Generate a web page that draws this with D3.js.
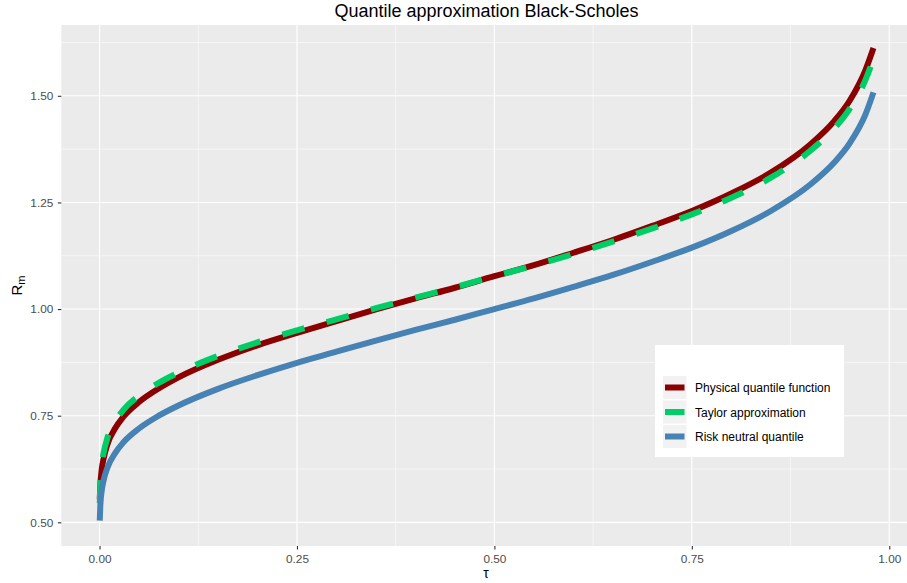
<!DOCTYPE html>
<html>
<head>
<meta charset="utf-8">
<script src="https://cdn.jsdelivr.net/npm/d3@7"></script>
<style>
  body { margin: 0; background: #fff; }
  text { font-family: "Liberation Sans", Arial, sans-serif; }
</style>
</head>
<body>
<script>
// values
const tau = [0.0003, 0.001, 0.003, 0.005, 0.01, 0.02, 0.03, 0.05, 0.075, 0.1,
  0.15, 0.2, 0.25, 0.3, 0.35, 0.4, 0.45, 0.5, 0.55, 0.6, 0.65, 0.7, 0.75,
  0.8, 0.85, 0.9, 0.93, 0.95, 0.97, 0.98];
const physical = [0.555, 0.585, 0.627, 0.648, 0.683, 0.721, 0.747, 0.782, 0.814, 0.840,
  0.881, 0.915, 0.944, 0.972, 0.999, 1.025, 1.050, 1.077, 1.103, 1.132, 1.162, 1.195, 1.230,
  1.271, 1.320, 1.386, 1.440, 1.489, 1.561, 1.612];
const taylor = [0.545, 0.588, 0.638, 0.661, 0.698, 0.737, 0.763, 0.797, 0.827, 0.851,
  0.890, 0.922, 0.950, 0.976, 1.002, 1.027, 1.051, 1.077, 1.102, 1.129, 1.158, 1.189, 1.222,
  1.261, 1.308, 1.371, 1.423, 1.470, 1.538, 1.587];
const riskNeutral = [0.504, 0.539, 0.577, 0.597, 0.628, 0.663, 0.687, 0.720, 0.750, 0.774,
  0.813, 0.845, 0.874, 0.900, 0.926, 0.951, 0.975, 1.000, 1.025, 1.052, 1.080, 1.111, 1.144,
  1.183, 1.230, 1.292, 1.343, 1.389, 1.457, 1.508];

const xTicks = [0, 0.25, 0.5, 0.75, 1];
const yTicks = [0.5, 0.75, 1, 1.25, 1.5];
const xMinor = [0.125, 0.375, 0.625, 0.875];
const yMinor = [0.625, 0.875, 1.125, 1.375, 1.625];

const seriesNames = ["Physical quantile function", "Taylor approximation", "Risk neutral quantile"];
const seriesColors = ["#8B0000", "#00CD66", "#4682B4"];

const width = 907;
const height = 583;
const panel = { left: 61.3, right: 911.7, top: 25, bottom: 546 };

const svg = d3.select("body")
  .append("svg")
  .attr("width", width)
  .attr("height", height);

const xScale = d3.scaleLinear()
  .domain([-0.0484, 1.0284])
  .range([panel.left, panel.right]);

const yScale = d3.scaleLinear()
  .domain([0.4445, 1.666])
  .range([panel.bottom, panel.top]);

// panel + grid
svg.append("rect")
  .attr("x", panel.left)
  .attr("y", panel.top)
  .attr("width", panel.right - panel.left)
  .attr("height", panel.bottom - panel.top)
  .attr("fill", "#EBEBEB");

const grid = svg.append("g").attr("id", "grid");

grid.selectAll(".xminor").data(xMinor).enter().append("line")
  .attr("x1", (d) => xScale(d)).attr("x2", (d) => xScale(d))
  .attr("y1", panel.top).attr("y2", panel.bottom)
  .attr("stroke", "#fff").attr("stroke-width", 0.55);

grid.selectAll(".yminor").data(yMinor).enter().append("line")
  .attr("y1", (d) => yScale(d)).attr("y2", (d) => yScale(d))
  .attr("x1", panel.left).attr("x2", panel.right)
  .attr("stroke", "#fff").attr("stroke-width", 0.55);

grid.selectAll(".xmajor").data(xTicks).enter().append("line")
  .attr("x1", (d) => xScale(d)).attr("x2", (d) => xScale(d))
  .attr("y1", panel.top).attr("y2", panel.bottom)
  .attr("stroke", "#fff").attr("stroke-width", 1.1);

grid.selectAll(".ymajor").data(yTicks).enter().append("line")
  .attr("y1", (d) => yScale(d)).attr("y2", (d) => yScale(d))
  .attr("x1", panel.left).attr("x2", panel.right)
  .attr("stroke", "#fff").attr("stroke-width", 1.1);

// axes
const xAxis = d3.axisBottom(xScale)
  .tickValues(xTicks)
  .tickFormat(d3.format(".2f"))
  .tickSize(3.5)
  .tickPadding(5);

const yAxis = d3.axisLeft(yScale)
  .tickValues(yTicks)
  .tickFormat(d3.format(".2f"))
  .tickSize(3.5)
  .tickPadding(4.5);

const gx = svg.append("g")
  .attr("transform", `translate(0, ${panel.bottom})`)
  .call(xAxis);

const gy = svg.append("g")
  .attr("transform", `translate(${panel.left}, 0)`)
  .call(yAxis);

[gx, gy].forEach((g) => {
  g.select(".domain").remove();
  g.selectAll(".tick line").attr("stroke", "#333333").attr("stroke-width", 1.1);
  g.selectAll(".tick text")
    .attr("fill", "#4D4D4D")
    .style("font-size", "11.8px")
    .style("font-family", "'Liberation Sans', Arial, sans-serif");
});

// lines
const lineGen = d3.line()
  .x((d) => xScale(d[0]))
  .y((d) => yScale(d[1]))
  .curve(d3.curveMonotoneX);

const lineData = [physical, taylor, riskNeutral].map((vals) => tau.map((t, i) => [t, vals[i]]));

const plot = svg.append("g").attr("id", "lines");

plot.append("path")
  .datum(lineData[0])
  .attr("d", lineGen)
  .attr("fill", "none")
  .attr("stroke", seriesColors[0])
  .attr("stroke-width", 6);

plot.append("path")
  .datum(lineData[1])
  .attr("d", lineGen)
  .attr("fill", "none")
  .attr("stroke", seriesColors[1])
  .attr("stroke-width", 6)
  .attr("stroke-dasharray", "23,23");

plot.append("path")
  .datum(lineData[2])
  .attr("d", lineGen)
  .attr("fill", "none")
  .attr("stroke", seriesColors[2])
  .attr("stroke-width", 6);

// titles
svg.append("text")
  .attr("x", 486.5)
  .attr("y", 16.7)
  .attr("text-anchor", "middle")
  .style("font-size", "18px")
  .text("Quantile approximation Black-Scholes");

svg.append("text")
  .attr("x", 486)
  .attr("y", 578)
  .attr("text-anchor", "middle")
  .style("font-size", "14px")
  .text("τ");

const yTitle = svg.append("text")
  .attr("transform", `translate(22, ${(panel.top + panel.bottom) / 2}) rotate(-90)`)
  .attr("text-anchor", "middle")
  .style("font-size", "15px");
yTitle.append("tspan").text("R");
yTitle.append("tspan").attr("dy", 3).style("font-size", "11px").text("m");

// legend
const legend = svg.append("g")
  .attr("id", "legend")
  .attr("transform", "translate(655, 345)");

legend.append("rect")
  .attr("width", 189)
  .attr("height", 112)
  .attr("fill", "#fff");

const items = legend.selectAll(".item")
  .data(seriesNames)
  .enter()
  .append("g")
  .attr("transform", (d, i) => `translate(8, ${31 + i * 24.5})`);

items.append("rect")
  .attr("width", 23.5)
  .attr("height", 23)
  .attr("fill", "#F2F2F2");

items.append("line")
  .attr("x1", 2).attr("x2", 21.5)
  .attr("y1", 11.5).attr("y2", 11.5)
  .attr("stroke", (d, i) => seriesColors[i])
  .attr("stroke-width", 6);

items.append("text")
  .attr("x", 32)
  .attr("y", 16)
  .style("font-size", "12px")
  .attr("fill", "#000")
  .text((d) => d);
</script>
</body>
</html>
